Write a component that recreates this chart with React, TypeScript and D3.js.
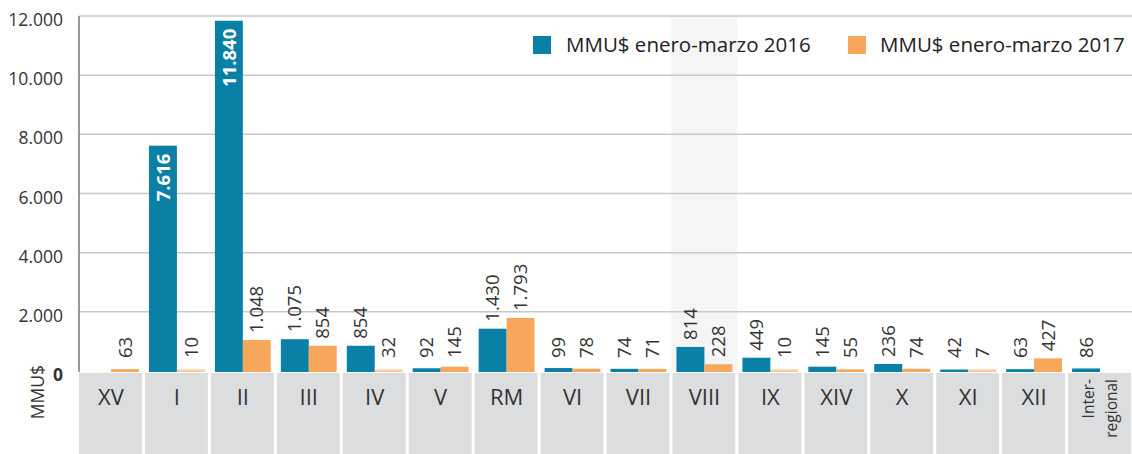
import React from 'react';
import * as d3 from 'd3';

// regions and values (MMU$)
const regions = ['XV', 'I', 'II', 'III', 'IV', 'V', 'RM', 'VI', 'VII', 'VIII', 'IX', 'XIV', 'X', 'XI', 'XII', 'Inter-regional'];
const values2016 = [null, 7616, 11840, 1075, 854, 92, 1430, 99, 74, 814, 449, 145, 236, 42, 63, 86];
const values2017 = [63, 10, 1048, 854, 32, 145, 1793, 78, 71, 228, 10, 55, 74, 7, 427, null];
const series = ['MMU$ enero-marzo 2016', 'MMU$ enero-marzo 2017'];
const yTicks = [0, 2000, 4000, 6000, 8000, 10000, 12000];
const highlighted = 'VIII';
const insideLabels = ['I', 'II'];

const W = 1132;
const H = 454;
const BLUE = '#0a80a6';
const ORANGE = '#f7a75c';
const FONT = '"Open Sans", Lato, sans-serif';

const fmt = (v: number) => d3.format(',')(v).replace(/,/g, '.');

const App = () => {
  // scales
  const x = d3.scaleBand<string>().domain(regions).range([78, 1133]).paddingInner(0);
  const sub = d3.scaleBand<string>().domain(['2016', '2017']).range([0, x.step()]).paddingInner(0).paddingOuter(0.18);
  const y = d3.scaleLinear().domain([0, 12000]).range([371, 16]);

  const rows = regions.map((r, i) => ({ r, v16: values2016[i], v17: values2017[i] }));

  const bar = (r: string, key: string, v: number | null, color: string) => {
    if (v == null) return null;
    const bx = (x(r) as number) + (sub(key) as number);
    const top = Math.min(y(v), y(0) - 1.5);
    const cx = bx + sub.bandwidth() / 2;
    const inside = key === '2016' && insideLabels.includes(r);
    const small = v < 40;
    return (
      <g key={r + key}>
        <rect x={bx} y={top} width={sub.bandwidth()} height={y(0) + 1 - top} fill={color} opacity={small ? 0.6 : 1} />
        {inside ? (
          <text
            transform={`translate(${cx},${top + 8}) rotate(-90)`}
            textAnchor="end"
            dy="0.36em"
            fill="#fff"
            fontWeight={700}
            fontSize={18.5}
          >
            {fmt(v)}
          </text>
        ) : (
          <text
            transform={`translate(${cx},${Math.min(y(v) - 7, 358)}) rotate(-90)`}
            textAnchor="start"
            dy="0.36em"
            fill="#333"
            fontSize={18.5}
          >
            {fmt(v)}
          </text>
        )}
      </g>
    );
  };

  return (
    <svg width={W} height={H} style={{ position: 'absolute', left: 0, top: 0, fontFamily: FONT }}>
      <rect width={W} height={H} fill="#fff" />
      {/* highlighted column */}
      <rect x={x(highlighted)} y={y(12000)} width={x.step()} height={y(0) - y(12000)} fill="#f5f5f5" />

      {/* gridlines */}
      {yTicks.filter(t => t > 0).map(t => (
        <line key={t} x1={79} x2={W} y1={y(t)} y2={y(t)} stroke="#c9c9cb" strokeWidth={1.5} />
      ))}

      {/* y tick labels */}
      {yTicks.map(t => (
        <text key={'l' + t} x={63} y={y(t) + 4} dy="0.35em" textAnchor="end" fontSize={17.5} fill="#333" fontWeight={t === 0 ? 700 : 400}>
          {fmt(t)}
        </text>
      ))}
      <text transform={`translate(38,392) rotate(-90)`} textAnchor="middle" dy="0.35em" fontSize={17.5} fill="#333">MMU$</text>

      {/* bars */}
      {rows.map(d => (
        <g key={d.r}>
          {bar(d.r, '2016', d.v16, BLUE)}
          {bar(d.r, '2017', d.v17, ORANGE)}
        </g>
      ))}

      {/* y axis line */}
      <line x1={79} x2={79} y1={y(12000)} y2={y(0) + 1} stroke="#555" strokeWidth={1.2} />

      {/* category boxes */}
      {regions.map(r => {
        const bx = x(r) as number;
        const cx = bx + x.step() / 2;
        return (
          <g key={'c' + r}>
            <rect x={bx + 1} y={373} width={x.step() - 3} height={H - 373} fill="#dcdddf" />
            {r === 'Inter-regional' ? (
              <text transform={`translate(${cx},379) rotate(-90)`} textAnchor="end" fontSize={15.5} fill="#333">
                <tspan x={0} dy="-0.4em">Inter-</tspan>
                <tspan x={0} dy="1.5em">regional</tspan>
              </text>
            ) : (
              <text x={cx} y={397} dy="0.35em" textAnchor="middle" fontSize={22} fill="#333">{r}</text>
            )}
          </g>
        );
      })}

      {/* legend */}
      <rect x={533} y={36} width={18} height={18} fill={BLUE} />
      <text x={566} y={45} dy="0.35em" fontSize={20.5} fill="#222">{series[0]}</text>
      <rect x={848} y={36} width={18} height={18} fill={ORANGE} />
      <text x={880} y={45} dy="0.35em" fontSize={20.5} fill="#222">{series[1]}</text>
    </svg>
  );
};

export default App;
